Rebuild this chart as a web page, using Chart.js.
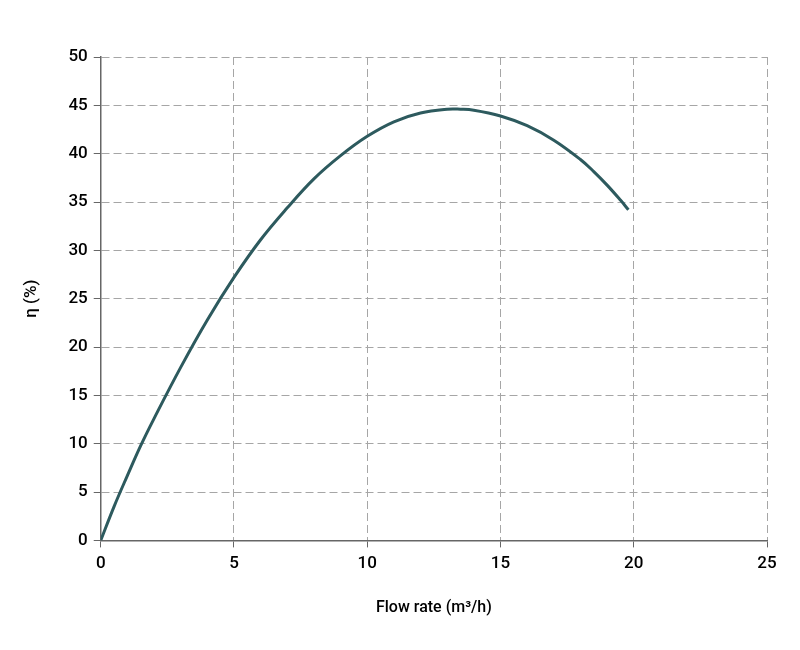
<!DOCTYPE html>
<html>
<head>
<meta charset="utf-8">
<script src="https://cdn.jsdelivr.net/npm/chart.js@4/dist/chart.umd.min.js"></script>
<style>
  html, body { margin: 0; padding: 0; background: #ffffff; }
  #wrap { width: 800px; height: 650px; }
</style>
</head>
<body>
<div id="wrap"><canvas id="effChart" width="800" height="650"></canvas></div>
<script>
(function(){
  'use strict';

  // flow rate (m³/h) and efficiency (%)
  const flowRate = [0, 0.5, 1, 1.5, 2, 3, 4, 5, 6, 7, 8, 9, 10, 11, 12, 13, 13.5, 14, 15, 16, 17, 18, 18.5, 19, 19.5, 19.8];
  const efficiency = [0, 3.5, 6.7, 9.8, 12.6, 17.9, 22.8, 27.2, 31.1, 34.4, 37.4, 39.8, 41.8, 43.3, 44.2, 44.6, 44.6, 44.5, 43.9, 42.9, 41.4, 39.4, 38.15, 36.75, 35.2, 34.2];

  const xTicks = [0, 5, 10, 15, 20, 25];
  const yTicks = [0, 5, 10, 15, 20, 25, 30, 35, 40, 45, 50];

  const xTitle = 'Flow rate (m³/h)';
  const yTitle = 'η (%)';

  const points = flowRate.map((x, i) => ({ x: x, y: efficiency[i] }));

  const fontFamily = 'Roboto, "Noto Sans", sans-serif';
  const gridColor = '#a6a6a6';
  const axisColor = '#666666';

  const ctx = document.getElementById('effChart').getContext('2d');
  new Chart(ctx, {
    type: 'line',
    data: {
      datasets: [{
        data: points,
        borderColor: '#2d5a5e',
        borderWidth: 3,
        pointRadius: 0,
        fill: false,
        tension: 0.4
      }]
    },
    options: {
      responsive: false,
      animation: false,
      layout: { padding: { top: 57, right: 33, bottom: 28, left: 18 } },
      plugins: { legend: { display: false }, tooltip: { enabled: false } },
      scales: {
        x: {
          type: 'linear',
          min: xTicks[0],
          max: xTicks[xTicks.length - 1],
          afterBuildTicks: (axis) => { axis.ticks = xTicks.map(v => ({ value: v })); },
          grid: { color: gridColor, lineWidth: 1, tickLength: 7, tickColor: axisColor, tickBorderDash: [] },
          border: { display: true, color: axisColor, width: 1.5, dash: [8, 4] },
          ticks: { color: '#000000', font: { family: fontFamily, size: 17, weight: '500' }, padding: 6.5, maxRotation: 0 },
          title: {
            display: true,
            text: xTitle,
            color: '#000000',
            font: { family: fontFamily, size: 16, weight: '500' },
            padding: { top: 18 }
          }
        },
        y: {
          type: 'linear',
          min: yTicks[0],
          max: yTicks[yTicks.length - 1],
          afterBuildTicks: (axis) => { axis.ticks = yTicks.map(v => ({ value: v })); },
          grid: { color: gridColor, lineWidth: 1, tickLength: 7, tickColor: axisColor, tickBorderDash: [] },
          border: { display: true, color: axisColor, width: 1.5, dash: [8, 4] },
          ticks: { color: '#000000', font: { family: fontFamily, size: 17, weight: '500' }, padding: 6 },
          title: {
            display: true,
            text: yTitle,
            color: '#000000',
            font: { family: fontFamily, size: 17, weight: '500' },
            padding: { bottom: 20 }
          }
        }
      }
    }
  });
})();
</script>
</body>
</html>
